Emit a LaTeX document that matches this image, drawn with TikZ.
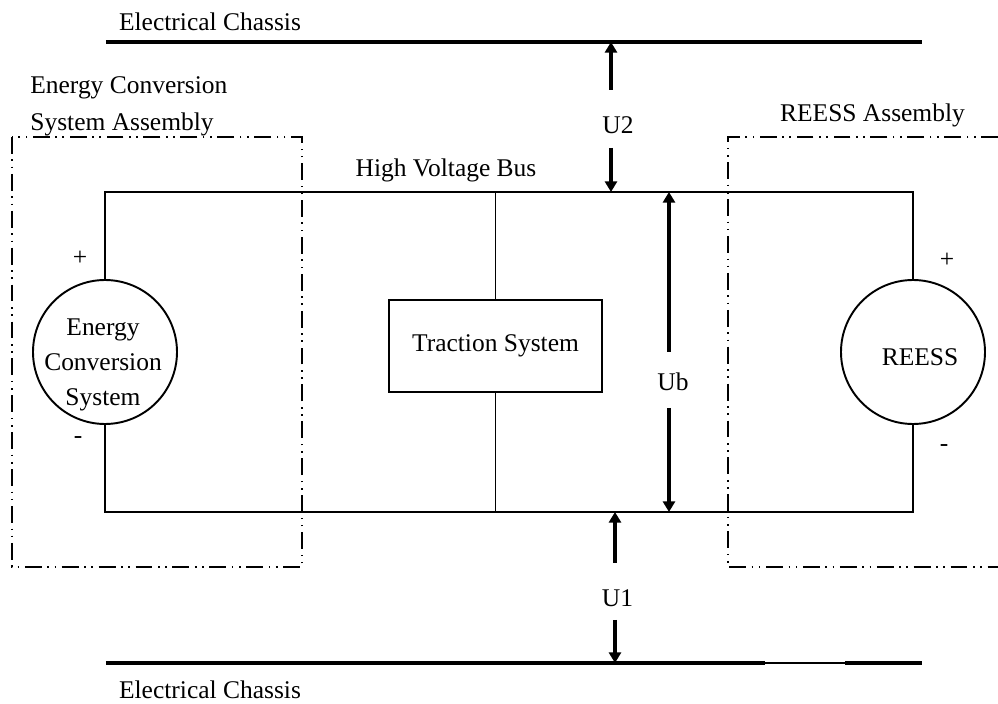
\documentclass[tikz,border=0pt]{standalone}
\usepackage{fontspec}
\setmainfont{Liberation Serif}
\usetikzlibrary{arrows.meta}

\begin{document}
\begin{tikzpicture}[scale=0.2,
  wire/.style={black, line width=1.1pt},
  chassis/.style={black, line width=1.9pt},
  assembly/.style={black, line width=0.6pt, dash pattern=on 9.6pt off 3.2pt on 0.9pt off 3.2pt on 0.9pt off 3.2pt},
  volt/.style={black, line width=1.9pt, -{Triangle[length=6pt,width=6.8pt]}},
  every node/.append style={font=\fontsize{14.5}{21}\selectfont}]
\tikzstyle{every node}+=[inner sep=0pt]
\useasboundingbox (0,0) rectangle (99.8,-70.4);
% chassis lines
\node (tclabel) at (21.0,-2.2) {Electrical Chassis};
\node (bclabel) at (21.0,-69.0) {Electrical Chassis};
\coordinate (tcl) at (10.6,-4.2);
\coordinate (tcr) at (92.2,-4.2);
\coordinate (bcl) at (10.6,-66.3);
\coordinate (bcgapl) at (76.5,-66.3);
\coordinate (bcgapr) at (84.5,-66.3);
\coordinate (bcr) at (92.2,-66.3);
\draw [chassis] (tcl) -- (tcr);
\draw [chassis] (bcl) -- (bcgapl);
\draw [black, line width=0.7pt] (bcgapl) -- (bcgapr);
\draw [chassis] (bcgapr) -- (bcr);
% assemblies
\node [anchor=west, align=left] (ecsalabel) at (3.0,-10.65) {Energy Conversion\\System Assembly};
\node (reessalabel) at (87.25,-11.5) {REESS Assembly};
\draw [assembly] (1.2,-13.7) rectangle (30.2,-56.7);
\draw [assembly] (99.8,-13.7) -- (72.8,-13.7) -- (72.8,-56.7) -- (99.8,-56.7);
% sources and load
\node [wire, draw, circle, minimum size=2.88cm,
  label={[align=center, yshift=-0.26cm, xshift=-0.04cm, font=\fontsize{14.5}{20}\selectfont]center:Energy\\Conversion\\System}] (ecs) at (10.5,-35.2) {};
\node [wire, draw, circle, minimum size=2.88cm,
  label={[xshift=0.14cm, yshift=-0.1cm]center:REESS}] (reess) at (91.3,-35.2) {};
\node (ecsplus) at (8.0,-25.8) {+};
\node (ecsminus) at (7.8,-44.0) {-};
\node (reessplus) at (94.7,-26.0) {+};
\node (reessminus) at (94.4,-44.8) {-};
\node [wire, draw, minimum width=4.26cm, minimum height=1.84cm] (traction) at (49.55,-34.6) {Traction System};
% high voltage bus
\node (hvbus) at (44.6,-17.0) {High Voltage Bus};
\coordinate (bustl) at (10.5,-19.2);
\coordinate (bustr) at (91.3,-19.2);
\coordinate (busbl) at (10.5,-51.2);
\coordinate (busbr) at (91.3,-51.2);
\draw [wire] (ecs.north) -- (bustl) -- (bustr) -- (reess.north);
\draw [wire] (ecs.south) -- (busbl) -- (busbr) -- (reess.south);
\draw [wire] (traction.north) -- (traction.north |- bustl);
\draw [wire] (traction.south) -- (traction.south |- busbl);
% voltages
\node (u2) at (61.8,-12.5) {U2};
\coordinate (u2a) at (61.1,-9.0);
\coordinate (u2b) at (61.1,-14.8);
\draw [volt] (u2a) -- (u2a |- tcl);
\draw [volt] (u2b) -- (u2b |- bustl);
\node (ub) at (67.3,-38.2) {Ub};
\coordinate (uba) at (66.9,-35.2);
\coordinate (ubb) at (66.9,-40.8);
\draw [volt] (uba) -- (uba |- bustl);
\draw [volt] (ubb) -- (ubb |- busbl);
\node (u1) at (61.75,-59.8) {U1};
\coordinate (u1a) at (61.5,-56.3);
\coordinate (u1b) at (61.5,-62.0);
\draw [volt] (u1a) -- (u1a |- busbl);
\draw [volt] (u1b) -- (u1b |- bcl);
\end{tikzpicture}
\end{document}
